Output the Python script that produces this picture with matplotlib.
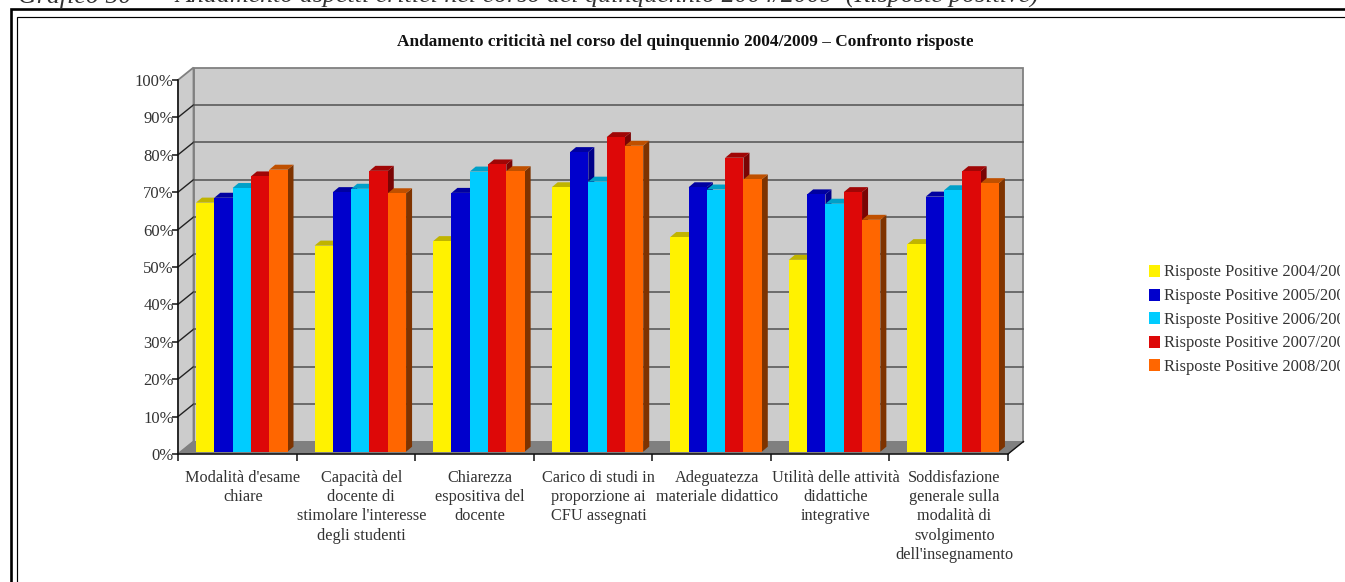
import matplotlib
matplotlib.use("Agg")
import matplotlib.pyplot as plt
from matplotlib.patches import Polygon, Rectangle
from matplotlib.transforms import Bbox

categories = ["Modalità d'esame\nchiare",
              "Capacità del\ndocente di\nstimolare l'interesse\ndegli studenti",
              "Chiarezza\nespositiva del\ndocente",
              "Carico di studi in\nproporzione ai\nCFU assegnati",
              "Adeguatezza\nmateriale didattico",
              "Utilità delle attività\ndidattiche\nintegrative",
              "Soddisfazione\ngenerale sulla\nmodalità di\nsvolgimento\ndell'insegnamento"]
series_names = ["Risposte Positive 2004/2005", "Risposte Positive 2005/2006",
                "Risposte Positive 2006/2007", "Risposte Positive 2007/2008",
                "Risposte Positive 2008/2009"]
r2004 = [66.6, 55.1, 56.3, 70.7, 57.4, 51.3, 55.5]
r2005 = [67.9, 69.4, 69.2, 80.1, 70.7, 68.8, 68.2]
r2006 = [70.5, 70.3, 74.9, 72.2, 70.1, 66.3, 69.9]
r2007 = [73.6, 75.1, 76.8, 84.1, 78.6, 69.4, 75.0]
r2008 = [75.4, 69.1, 75.0, 81.8, 72.8, 62.0, 71.8]
series = [r2004, r2005, r2006, r2007, r2008]
colors = ["#FFF200", "#0000CC", "#00CCFF", "#DD0808", "#FF6600"]
side_cols = ["#A89F00", "#000088", "#0088AA", "#7A0404", "#7E3300"]
top_cols = ["#C0B400", "#0000A0", "#00A0C8", "#A00606", "#BF5000"]
yticks = list(range(0, 101, 10))

W, H = 1345, 582
plt.rcParams['font.family'] = ['Liberation Serif']
fig = plt.figure(figsize=(W/100, H/100), dpi=100, facecolor="white")

# page-level pixel overlay
bg = fig.add_axes([0, 0, 1, 1]); bg.set_xlim(0, W); bg.set_ylim(H, 0); bg.axis("off")
bg.plot([10.6, 10.6, 1345], [582, 9.3, 9.3], color="black", lw=1.9, solid_joinstyle="miter")
bg.plot([16.5, 16.5, 1345], [582, 16.5, 16.5], color="black", lw=0.85, solid_joinstyle="miter")
bg.text(18, 3, "Grafico 50", style="italic", fontsize=18.7, color="#333333", va="baseline", ha="left")
bg.text(175, 3, "Andamento aspetti critici nel corso del quinquennio 2004/2009  (Risposte positive)",
        style="italic", fontsize=18.7, color="#333333", va="baseline", ha="left")
title = bg.text(397, 42, "Andamento criticità nel corso del quinquennio 2004/2009 – Confronto risposte positive",
                fontsize=12.4, fontweight="bold", color="#111111", va="center", ha="left")
title.set_clip_box(Bbox([[390, H-56], [973, H-28]]))
title.set_clip_on(True)

# main axes in front plane
L, R, T, B = 178, 1008, 80, 454
ax = fig.add_axes([L/W, 1-B/H, (R-L)/W, (B-T)/H], zorder=2)
ax.patch.set_alpha(0)
ax.set_xlim(0, 7); ax.set_ylim(0, 100)
pxx = 7/(R-L); pxy = 100/(B-T)
DX, DY = 15.5*pxx, 12.5*pxy      # chart depth
for s in ("top", "right"):
    ax.spines[s].set_visible(False)
for s in ("left", "bottom"):
    ax.spines[s].set_linewidth(1.1)
    ax.spines[s].set_color("#111111")

ax.add_patch(Polygon([(DX, DY), (7+DX, DY), (7+DX, 100+DY), (DX, 100+DY)], fc="#CCCCCC", ec="#808080", lw=1.3, zorder=1, clip_on=False))
ax.add_patch(Polygon([(0, 0), (DX, DY), (DX, 100+DY), (0, 100)], fc="#CCCCCC", ec="#808080", lw=1.3, zorder=1, clip_on=False))
ax.add_patch(Polygon([(0, 0), (7, 0), (7+DX, DY), (DX, DY)], fc="#808080", ec="#808080", lw=0.5, zorder=1, clip_on=False))
for v in yticks[1:-1]:
    ax.plot([0, DX], [v, v+DY], color="#222222", lw=1.0, zorder=1.5, clip_on=False)
    ax.plot([DX, 7+DX], [v+DY, v+DY], color="#555555", lw=1.15, zorder=1.5, clip_on=False)
ax.plot([7, 7+DX], [0, DY], color="#111111", lw=1.0, zorder=1.5, clip_on=False)

bw = 18.3*pxx; x0 = 18*pxx
bdx, bdy = 6.0*pxx, 5*pxy
base = 2.3*pxy
for g in range(len(categories)):
    for i, (vals, c) in enumerate(zip(series, colors)):
        x = g + x0 + i*bw
        v = vals[g]
        z = 3 + i*0.01
        ax.add_patch(Polygon([(x+bw, base), (x+bw+bdx, base+bdy), (x+bw+bdx, v+base+bdy), (x+bw, v+base)],
                             fc=side_cols[i], ec="none", zorder=z, clip_on=False))
        ax.add_patch(Polygon([(x, v+base), (x+bw, v+base), (x+bw+bdx, v+base+bdy), (x+bdx, v+base+bdy)],
                             fc=top_cols[i], ec="none", zorder=z, clip_on=False))
        ax.add_patch(Rectangle((x, base), bw, v, fc=c, ec="none", zorder=z+0.005, clip_on=False))

ax.set_xticks(range(8)); ax.set_xticklabels([""]*8)
ax.tick_params(axis="x", length=5, width=1.1, color="#111111")
ax.set_yticks(yticks); ax.set_yticklabels([f"{v}%" for v in yticks], fontsize=12, color="#333333")
ax.tick_params(axis="y", length=4, width=1.1, color="#111111", pad=-1)
for g, lab in enumerate(categories):
    ax.annotate(lab, xy=(g+0.5, 0), xycoords="data", xytext=(5.5, -15.5), textcoords="offset pixels",
                ha="center", va="top", fontsize=11.7, color="#333333", linespacing=1.29, annotation_clip=False)

# legend (clipped on the right as in the source)
for i, (name, c) in enumerate(zip(series_names, colors)):
    y = 271 + i*23.6
    bg.add_patch(Rectangle((1149, y-6), 11, 12, fc=c, ec="none"))
    t = bg.text(1164, y+1.5, name, fontsize=11.9, color="#333333", va="center", ha="left")
    t.set_clip_box(Bbox([[1140, 0], [1340, H]]))
    t.set_clip_on(True)

fig.savefig("out.png", dpi=100)
